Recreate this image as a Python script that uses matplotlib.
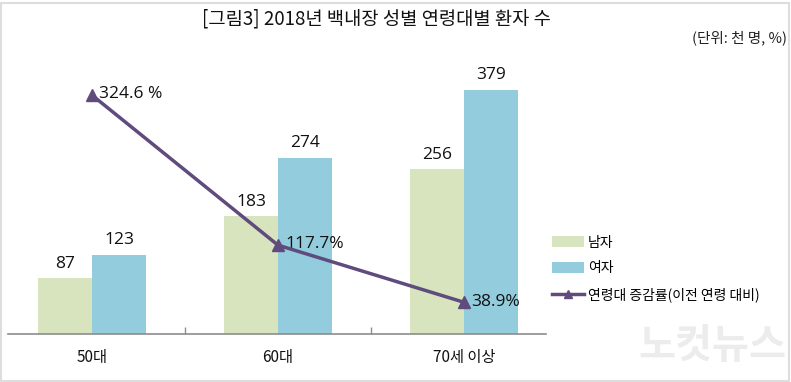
import matplotlib
matplotlib.use("Agg")
import matplotlib.pyplot as plt
from matplotlib.lines import Line2D
from matplotlib.patches import Patch, Rectangle
import numpy as np

plt.rcParams['font.family'] = ['Noto Sans CJK KR', 'DejaVu Sans']

categories = ['50대', '60대', '70세 이상']
male = [87, 183, 256]
female = [123, 274, 379]
growth = [324.6, 117.7, 38.9]
growth_labels = ['324.6 %', '117.7%', '38.9%']

W, H = 791, 382
fig = plt.figure(figsize=(W / 100, H / 100), dpi=100)

def px(x0, y0, x1, y1):
    return [x0 / W, 1 - y1 / H, (x1 - x0) / W, (y1 - y0) / H]

top, base, left, right = 60, 334, 8, 546
ax = fig.add_axes(px(left, top, right, base))
unit = 186.0
x0 = 0.5 - (185 - left) / unit
x1 = 1.5 + (right - 371) / unit
ax.set_xlim(x0, x1)
ppu = 0.644
ax.set_ylim(0, (base - top) / ppu)

x = np.arange(len(categories))
bw = 0.29
green = '#D7E4BD'
blue = '#93CDDD'
purple = '#5F4B7D'
ax.bar(x - bw / 2, male, width=bw, color=green, zorder=2)
ax.bar(x + bw / 2, female, width=bw, color=blue, zorder=2)
for i in range(len(x)):
    ax.text(x[i] - bw / 2, male[i] + 10, str(male[i]), ha='center', va='bottom',
            fontsize=12.5, color='#111111', family=['Open Sans', 'DejaVu Sans'])
    ax.text(x[i] + bw / 2, female[i] + 10, str(female[i]), ha='center', va='bottom',
            fontsize=12.5, color='#111111', family=['Open Sans', 'DejaVu Sans'])

for s in ['top', 'right', 'left']:
    ax.spines[s].set_visible(False)
ax.spines['bottom'].set_color('#8C8C8C')
ax.spines['bottom'].set_linewidth(1.2)
ax.set_yticks([])
ax.set_xticks([0.5, 1.5])
ax.set_xticklabels([])
ax.tick_params(axis='x', length=5, color='#8C8C8C', direction='in', width=1)
for i, c in enumerate(categories):
    ax.text(x[i], -36, c, ha='center', va='center', fontsize=11, color='#111111',
            transform=ax.transData, clip_on=False)

ax2 = ax.twinx()
ax2.set_xlim(x0, x1)
lpu = 0.744
zero = 337.6
ax2.set_ylim(-(zero - base) / lpu, (zero - top) / lpu)
ax2.plot(x, growth, color=purple, linewidth=2.5, marker='^', markersize=8, zorder=5)
for i in range(len(x)):
    ax2.text(x[i] + 0.04, growth[i] + 1, growth_labels[i], ha='left', va='center',
             fontsize=12.5, color='#111111', family=['Open Sans', 'DejaVu Sans'])
ax2.axis('off')

handles = [Patch(facecolor=green, edgecolor='none'),
           Patch(facecolor=blue, edgecolor='none'),
           Line2D([0], [0], color=purple, linewidth=2.5, marker='^', markersize=6)]
labels = ['남자', '여자', '연령대 증감률(이전 연령 대비)']
fig.legend(handles, labels, loc='upper left', bbox_to_anchor=(546 / W, 1 - 230 / H),
           frameon=False, fontsize=10, handlelength=2.3, handleheight=0.8,
           labelspacing=0.85, handletextpad=0.3, borderaxespad=0)

fig.text(376 / W, 1 - 19 / H, '[그림3] 2018년 백내장 성별 연령대별 환자 수', ha='center',
         va='center', fontsize=13.5, color='#111111', fontweight='medium')
fig.text(787 / W, 1 - 38 / H, '(단위: 천 명, %)', ha='right', va='center',
         fontsize=10.5, color='#222222')
fig.text(712 / W, 1 - 347 / H, '노컷뉴스', ha='center', va='center', fontsize=29,
         color='#ECECEC', style='italic', fontweight='bold')

fig.patches.append(Rectangle((1 / W, 1 / H), (W - 3) / W, (H - 4) / H,
                             transform=fig.transFigure, fill=False,
                             edgecolor='#DDDDDD', linewidth=1.5))

fig.savefig('out.png', dpi=100)
